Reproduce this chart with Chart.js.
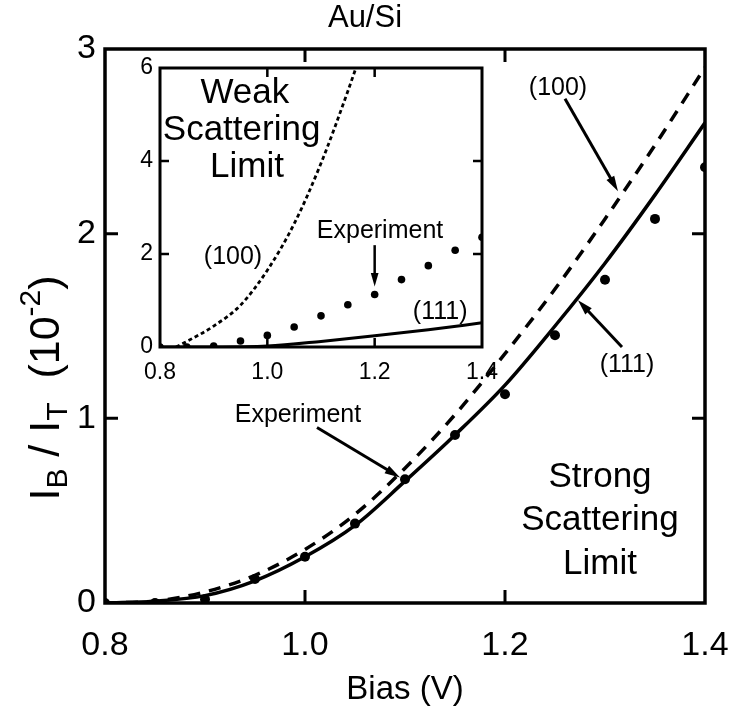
<!DOCTYPE html>
<html>
<head>
<meta charset="utf-8">
<script src="https://cdn.jsdelivr.net/npm/chart.js@4.4.1/dist/chart.umd.min.js"></script>
<style>
  body { margin: 0; background: #fff; }
  #wrap { position: relative; width: 732px; height: 708px; }
  #mainChart { position: absolute; left: 0; top: 0; }
  #insetChart { position: absolute; left: 115px; top: 55px; }
</style>
</head>
<body>
<div id="wrap">
  <canvas id="mainChart" width="732" height="708"></canvas>
  <canvas id="insetChart" width="385" height="340"></canvas>
</div>
<script>
// main plot: strong scattering limit, I_B/I_T in units of 1e-2
var biasV = [0.80, 0.85, 0.90, 0.95, 1.00, 1.05, 1.10, 1.15, 1.20, 1.25, 1.30, 1.35, 1.40];
var experiment = [0.00, 0.00, 0.02, 0.13, 0.25, 0.43, 0.67, 0.91, 1.13, 1.45, 1.75, 2.08, 2.36];
var strong111 = [0.00, 0.01, 0.04, 0.12, 0.25, 0.42, 0.66, 0.91, 1.18, 1.50, 1.84, 2.21, 2.60];
var strong100 = [0.00, 0.01, 0.06, 0.15, 0.29, 0.48, 0.73, 1.02, 1.35, 1.70, 2.08, 2.48, 2.90];

// inset: weak scattering limit
var weakBias100 = [0.83, 0.85, 0.90, 0.95, 1.00, 1.05, 1.10, 1.15, 1.165];
var weak100 = [0.00, 0.12, 0.45, 0.90, 1.65, 2.65, 3.95, 5.50, 6.00];
var weakBias111 = [0.80, 0.90, 1.00, 1.10, 1.20, 1.30, 1.40];
var weak111 = [0.00, 0.00, 0.02, 0.12, 0.24, 0.37, 0.52];

var xTicks = [0.8, 1.0, 1.2, 1.4];
var yTicksMain = [0, 1, 2, 3];
var yTicksInset = [0, 2, 4, 6];

var FONT = "'Liberation Sans', Arial, Helvetica, sans-serif";

function pts(xs, ys) {
  return xs.map(function(v, i) { return {x: v, y: ys[i]}; });
}

// frame, inward ticks, labels and arrows
var notes = {
  id: "notes",
  afterDraw: function(chart, args, opts) {
    var ctx = chart.ctx, a = chart.chartArea;
    var x = chart.scales.x, y = chart.scales.y;
    ctx.save();
    ctx.strokeStyle = "#000";
    ctx.fillStyle = "#000";
    ctx.lineWidth = opts.frame;
    ctx.strokeRect(a.left, a.top, a.right - a.left, a.bottom - a.top);

    ctx.lineWidth = opts.frame - 0.5;
    ctx.beginPath();
    x.ticks.forEach(function(t) {
      if (t.value <= x.min + 1e-6 || t.value >= x.max - 1e-6) return;
      var px = x.getPixelForValue(t.value);
      ctx.moveTo(px, a.bottom); ctx.lineTo(px, a.bottom - opts.tick);
      ctx.moveTo(px, a.top); ctx.lineTo(px, a.top + opts.tick);
    });
    y.ticks.forEach(function(t) {
      if (t.value <= y.min + 1e-6 || t.value >= y.max - 1e-6) return;
      var py = y.getPixelForValue(t.value);
      ctx.moveTo(a.left, py); ctx.lineTo(a.left + opts.tick, py);
      ctx.moveTo(a.right, py); ctx.lineTo(a.right - opts.tick, py);
    });
    ctx.stroke();

    ctx.textAlign = "center";
    ctx.textBaseline = "middle";
    (opts.texts || []).forEach(function(t) {
      ctx.font = t.size + "px " + FONT;
      ctx.fillText(t.text, x.getPixelForValue(t.x), y.getPixelForValue(t.y));
    });

    (opts.arrows || []).forEach(function(ar) {
      var x0 = x.getPixelForValue(ar.from[0]), y0 = y.getPixelForValue(ar.from[1]);
      var x1 = x.getPixelForValue(ar.to[0]), y1 = y.getPixelForValue(ar.to[1]);
      var ang = Math.atan2(y1 - y0, x1 - x0), head = ar.head || 16;
      ctx.lineWidth = ar.width || 3;
      ctx.beginPath();
      ctx.moveTo(x0, y0);
      ctx.lineTo(x1 - Math.cos(ang) * head * 0.8, y1 - Math.sin(ang) * head * 0.8);
      ctx.stroke();
      ctx.beginPath();
      ctx.moveTo(x1, y1);
      ctx.lineTo(x1 - head * Math.cos(ang - 0.28), y1 - head * Math.sin(ang - 0.28));
      ctx.lineTo(x1 - head * Math.cos(ang + 0.28), y1 - head * Math.sin(ang + 0.28));
      ctx.closePath();
      ctx.fill();
    });

    if (opts.axisText) opts.axisText(ctx, a);
    ctx.restore();
  }
};

function fixedTicks(list) {
  return function(scale) {
    scale.ticks = list.map(function(v) { return {value: v}; });
  };
}

function fitX(h) {
  return function(s) { s.height = h; s.paddingLeft = 0; s.paddingRight = 0; };
}
function fitY(w) {
  return function(s) { s.width = w; s.paddingTop = 0; s.paddingBottom = 0; };
}

// main chart
new Chart(document.getElementById("mainChart"), {
  type: "scatter",
  data: {
    datasets: [{
      label: "Experiment",
      data: pts(biasV, experiment),
      pointRadius: 5,
      pointBackgroundColor: "#000",
      pointBorderWidth: 0,
      showLine: false
    }, {
      label: "(111)",
      data: pts(biasV, strong111),
      showLine: true,
      borderColor: "#000",
      borderWidth: 3.5,
      pointRadius: 0,
      cubicInterpolationMode: "monotone"
    }, {
      label: "(100)",
      data: pts(biasV, strong100),
      showLine: true,
      borderColor: "#000",
      borderWidth: 3.5,
      borderDash: [12, 9],
      pointRadius: 0,
      cubicInterpolationMode: "monotone"
    }]
  },
  options: {
    responsive: false,
    animation: false,
    layout: { padding: { left: 0, top: 49, right: 27, bottom: 0 } },
    plugins: {
      legend: { display: false },
      tooltip: { enabled: false },
      notes: {
        frame: 3.5,
        tick: 13,
        texts: [
          { text: "(100)", x: 1.253, y: 2.79, size: 25 },
          { text: "(111)", x: 1.322, y: 1.29, size: 25 },
          { text: "Experiment", x: 0.993, y: 1.02, size: 25 },
          { text: "Strong", x: 1.295, y: 0.68, size: 35 },
          { text: "Scattering", x: 1.295, y: 0.445, size: 35 },
          { text: "Limit", x: 1.295, y: 0.21, size: 35 }
        ],
        arrows: [
          { from: [1.26, 2.73], to: [1.313, 2.23] },
          { from: [1.317, 1.386], to: [1.273, 1.64] },
          { from: [1.012, 0.95], to: [1.095, 0.68] }
        ],
        axisText: function(ctx, a) {
          ctx.font = "31px " + FONT;
          ctx.fillText("Au/Si", a.left + 260, a.top - 31);
          ctx.font = "33px " + FONT;
          ctx.fillText("Bias (V)", a.left + 300, a.bottom + 87);
          // y title with sub/superscripts, rotated
          var big = 43, small = 30;
          var parts = [
            { t: "I", s: big, dy: 0 },
            { t: "B", s: small, dy: 12 },
            { t: " / ", s: big, dy: 0 },
            { t: "I", s: big, dy: 0 },
            { t: "T", s: small, dy: 12 },
            { t: "  (10", s: big, dy: 0 },
            { t: "-2", s: small, dy: -15 },
            { t: ")", s: big, dy: 0 }
          ];
          var total = 0;
          parts.forEach(function(p) { ctx.font = p.s + "px " + FONT; p.w = ctx.measureText(p.t).width; total += p.w; });
          ctx.save();
          ctx.translate(a.left - 58, 388);
          ctx.rotate(-Math.PI / 2);
          ctx.textAlign = "left";
          var pos = -total / 2;
          parts.forEach(function(p) {
            ctx.font = p.s + "px " + FONT;
            ctx.fillText(p.t, pos, p.dy);
            pos += p.w;
          });
          ctx.restore();
        }
      }
    },
    scales: {
      x: {
        type: "linear",
        min: 0.8, max: 1.4,
        afterBuildTicks: fixedTicks(xTicks),
        afterFit: fitX(105),
        grid: { drawOnChartArea: false, drawTicks: false },
        border: { display: false },
        ticks: {
          padding: 22,
          color: "#000",
          maxRotation: 0,
          font: { family: FONT, size: 34 },
          callback: function(v) { return Number(v).toFixed(1); }
        }
      },
      y: {
        min: 0, max: 3,
        afterBuildTicks: fixedTicks(yTicksMain),
        afterFit: fitY(105),
        grid: { drawOnChartArea: false, drawTicks: false },
        border: { display: false },
        ticks: {
          padding: 9,
          color: "#000",
          font: { family: FONT, size: 34 }
        }
      }
    }
  },
  plugins: [notes]
});

// inset chart
new Chart(document.getElementById("insetChart"), {
  type: "scatter",
  data: {
    datasets: [{
      label: "Experiment",
      data: pts(biasV, experiment),
      pointRadius: 3.8,
      pointBackgroundColor: "#000",
      pointBorderWidth: 0,
      showLine: false
    }, {
      label: "(111)",
      data: pts(weakBias111, weak111),
      showLine: true,
      borderColor: "#000",
      borderWidth: 3,
      pointRadius: 0,
      cubicInterpolationMode: "monotone"
    }, {
      label: "(100)",
      data: pts(weakBias100, weak100),
      showLine: true,
      borderColor: "#000",
      borderWidth: 2.8,
      borderDash: [4, 3],
      pointRadius: 0,
      cubicInterpolationMode: "monotone"
    }]
  },
  options: {
    responsive: false,
    animation: false,
    layout: { padding: { left: 0, top: 13, right: 18, bottom: 0 } },
    plugins: {
      legend: { display: false },
      tooltip: { enabled: false },
      notes: {
        frame: 3,
        tick: 9,
        texts: [
          { text: "Weak", x: 0.958, y: 5.46, size: 35 },
          { text: "Scattering", x: 0.952, y: 4.67, size: 35 },
          { text: "Limit", x: 0.962, y: 3.86, size: 35 },
          { text: "Experiment", x: 1.21, y: 2.49, size: 25 },
          { text: "(100)", x: 0.936, y: 1.94, size: 25 },
          { text: "(111)", x: 1.322, y: 0.75, size: 25 }
        ],
        arrows: [
          { from: [1.2, 2.19], to: [1.2, 1.3], head: 14, width: 2.5 }
        ]
      }
    },
    scales: {
      x: {
        type: "linear",
        min: 0.8, max: 1.4,
        afterBuildTicks: fixedTicks(xTicks),
        afterFit: fitX(48),
        grid: { drawOnChartArea: false, drawTicks: false },
        border: { display: false },
        ticks: {
          padding: 12,
          color: "#000",
          maxRotation: 0,
          font: { family: FONT, size: 23 },
          callback: function(v) { return Number(v).toFixed(1); }
        }
      },
      y: {
        min: 0, max: 6,
        afterBuildTicks: fixedTicks(yTicksInset),
        afterFit: fitY(45),
        grid: { drawOnChartArea: false, drawTicks: false },
        border: { display: false },
        ticks: {
          padding: 7,
          color: "#000",
          font: { family: FONT, size: 23 }
        }
      }
    }
  },
  plugins: [notes]
});
</script>
</body>
</html>
